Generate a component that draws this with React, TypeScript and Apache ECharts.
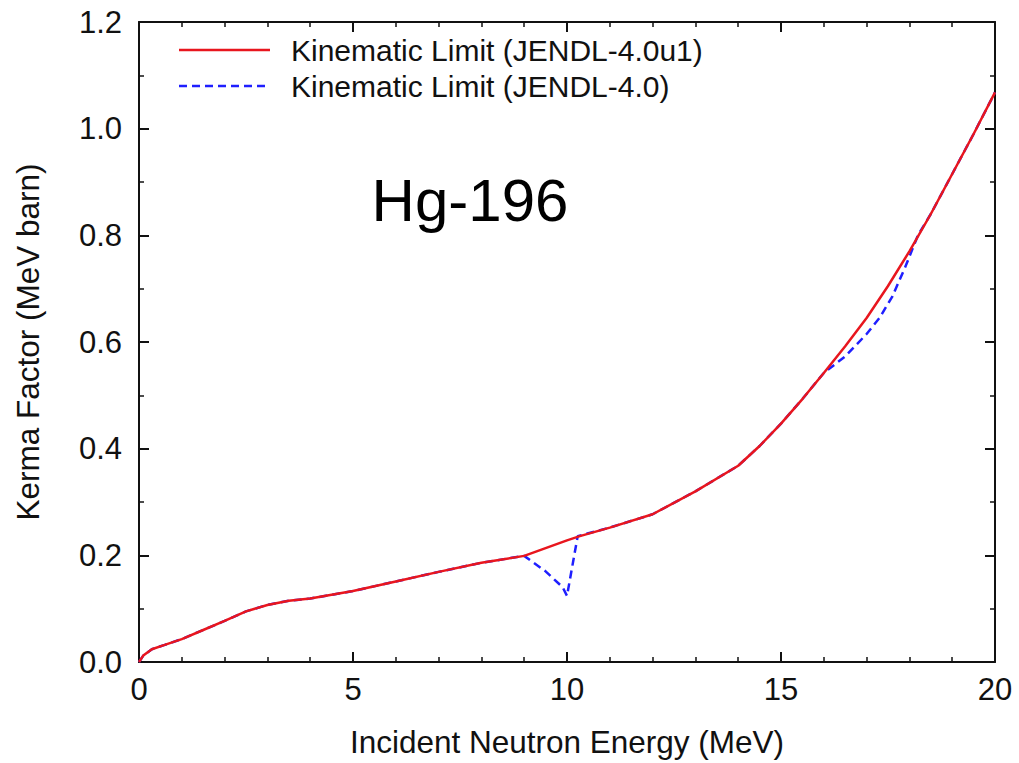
import React, { useEffect, useRef } from "react";
import * as echarts from "echarts";

const redX = [0, 0.1, 0.3, 0.6, 1, 1.5, 2, 2.5, 3, 3.5, 4, 5, 6, 7, 8, 9, 10, 10.3, 11, 12, 13, 14, 14.5, 15, 15.5, 16, 16.5, 17, 17.5, 18, 18.5, 19, 19.5, 20];
const redY = [0, 0.012, 0.024, 0.032, 0.043, 0.06, 0.077, 0.095, 0.107, 0.115, 0.119, 0.133, 0.151, 0.169, 0.186, 0.199, 0.228, 0.236, 0.252, 0.277, 0.32, 0.368, 0.405, 0.447, 0.493, 0.542, 0.592, 0.645, 0.705, 0.77, 0.84, 0.915, 0.99, 1.068];

const blueX = [0, 0.1, 0.3, 0.6, 1, 1.5, 2, 2.5, 3, 3.5, 4, 5, 6, 7, 8, 9, 9.5, 9.9, 10.0, 10.25, 11, 12, 13, 14, 14.5, 15, 15.5, 16, 16.5, 17, 17.3, 17.6, 17.9, 18.2, 18.5, 19, 19.5, 20];
const blueY = [0, 0.012, 0.024, 0.032, 0.043, 0.06, 0.077, 0.095, 0.107, 0.115, 0.119, 0.133, 0.151, 0.169, 0.186, 0.199, 0.17, 0.14, 0.124, 0.236, 0.252, 0.277, 0.32, 0.368, 0.405, 0.447, 0.493, 0.542, 0.573, 0.615, 0.645, 0.685, 0.74, 0.8, 0.84, 0.915, 0.99, 1.068];

const legendNames = ["Kinematic Limit (JENDL-4.0u1)", "Kinematic Limit (JENDL-4.0)"];
const nuclide = "Hg-196";
const xTitle = "Incident Neutron Energy (MeV)";
const yTitle = "Kerma Factor (MeV barn)";

const FONT = "'Liberation Sans', Arial, Helvetica, sans-serif";
const RED = "#e8161e";
const BLUE = "#1f1fff";

export default function App() {
  const ref = useRef<HTMLDivElement>(null);
  useEffect(() => {
    if (!ref.current) return;
    const chart = echarts.init(ref.current, undefined, { renderer: "svg" });
    const axisCommon = {
      type: "value" as const,
      axisLine: { show: true, onZero: false, lineStyle: { color: "#111", width: 2 } },
      axisTick: { show: true, inside: true, length: 10, lineStyle: { color: "#111", width: 2 } },
      minorTick: { show: true, length: 5, lineStyle: { color: "#111", width: 1.5 } },
      splitLine: { show: false },
      minorSplitLine: { show: false },
    };
    const xBase = { ...axisCommon, min: 0, max: 20, interval: 5, minorTick: { ...axisCommon.minorTick, splitNumber: 5 } };
    const yBase = { ...axisCommon, min: 0, max: 1.2, interval: 0.2, minorTick: { ...axisCommon.minorTick, splitNumber: 2 } };
    chart.setOption({
      animation: false,
      backgroundColor: "#fff",
      textStyle: { fontFamily: FONT },
      grid: { left: 139, right: 24, top: 22, bottom: 100, containLabel: false },
      xAxis: [
        {
          ...xBase,
          position: "bottom",
          axisLabel: { fontSize: 31, color: "#111", margin: 12, fontFamily: FONT },
          name: xTitle,
          nameLocation: "middle",
          nameGap: 64,
          nameTextStyle: { fontSize: 31.5, color: "#111", fontFamily: FONT },
        },
        { ...xBase, position: "top", axisLabel: { show: false } },
      ],
      yAxis: [
        {
          ...yBase,
          position: "left",
          axisLabel: {
            fontSize: 31,
            color: "#111",
            margin: 17,
            fontFamily: FONT,
            formatter: (v: number) => v.toFixed(1),
          },
          name: yTitle,
          nameLocation: "middle",
          nameGap: 95,
          nameRotate: 90,
          nameTextStyle: { fontSize: 31.5, color: "#111", fontFamily: FONT },
        },
        { ...yBase, position: "right", axisLabel: { show: false } },
      ],
      series: [
        {
          name: legendNames[1],
          type: "line",
          xAxisIndex: 0,
          yAxisIndex: 0,
          data: blueX.map((x, i) => [x, blueY[i]]),
          showSymbol: false,
          symbol: "none",
          lineStyle: { color: BLUE, width: 2.5, type: [8, 5] },
          z: 2,
        },
        {
          name: legendNames[0],
          type: "line",
          xAxisIndex: 0,
          yAxisIndex: 0,
          data: redX.map((x, i) => [x, redY[i]]),
          showSymbol: false,
          symbol: "none",
          lineStyle: { color: RED, width: 2.5 },
          z: 3,
        },
      ],
      graphic: [
        { type: "line", shape: { x1: 179, y1: 50, x2: 270, y2: 50 }, style: { stroke: RED, lineWidth: 2.5 } },
        { type: "line", shape: { x1: 179, y1: 86, x2: 270, y2: 86 }, style: { stroke: BLUE, lineWidth: 2.5, lineDash: [8, 5] } },
        { type: "text", x: 291, y: 50, style: { text: legendNames[0], fontSize: 30, fontFamily: FONT, fill: "#111", verticalAlign: "middle" } },
        { type: "text", x: 291, y: 86, style: { text: legendNames[1], fontSize: 30, fontFamily: FONT, fill: "#111", verticalAlign: "middle" } },
        { type: "text", x: 470, y: 200, style: { text: nuclide, fontSize: 60, fontFamily: FONT, fill: "#000", align: "center", verticalAlign: "middle" } },
      ],
    });
    return () => chart.dispose();
  }, []);
  return <div ref={ref} style={{ width: 1019, height: 763, position: "absolute", left: 0, top: 0 }} />;
}
